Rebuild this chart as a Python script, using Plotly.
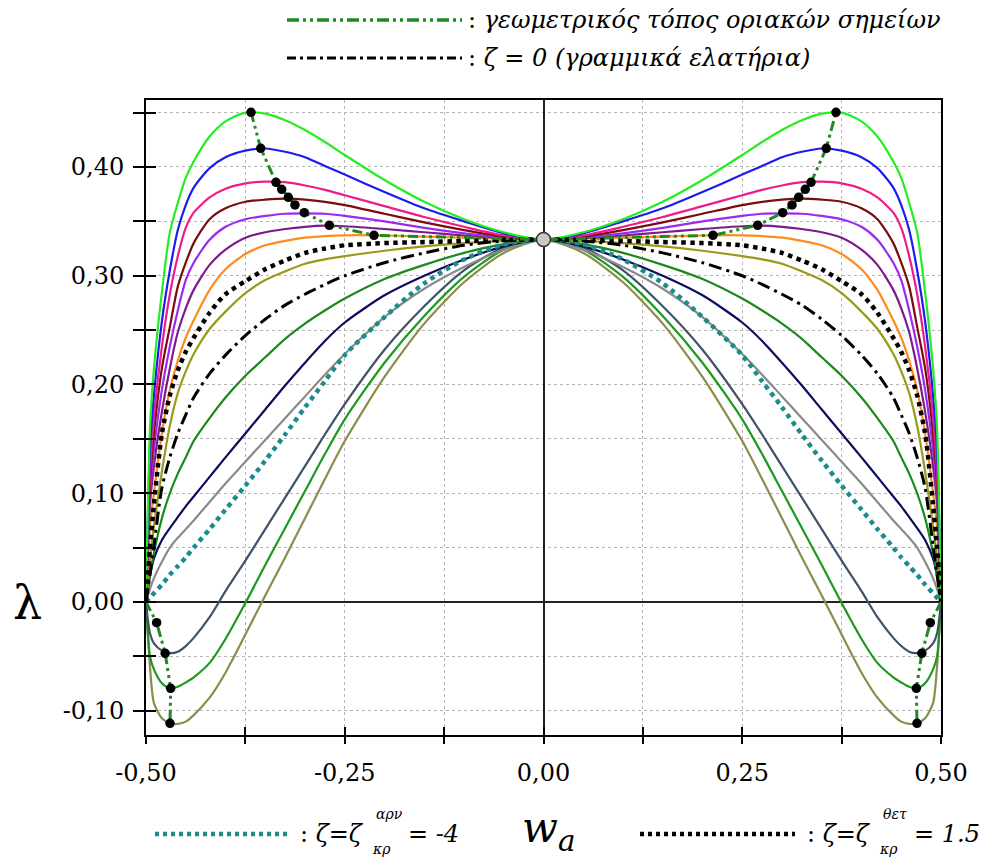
import plotly.graph_objects as go

# ---------------- data (left half; curves are symmetric) ----------------
W_HALF = [-0.5, -0.495, -0.49, -0.48, -0.47, -0.46, -0.45, -0.44, -0.42, -0.40, -0.375,
          -0.35, -0.325, -0.30, -0.275, -0.25, -0.20, -0.15, -0.10, -0.05, 0.0]

LAM_LIME   = [0, 0.16, 0.215, 0.285, 0.34, 0.367, 0.39, 0.405, 0.428, 0.442, 0.450, 0.449, 0.443, 0.434, 0.423, 0.411, 0.388, 0.368, 0.352, 0.340, 0.3333]
LAM_BLUE   = [0, 0.14, 0.19, 0.258, 0.305, 0.342, 0.365, 0.381, 0.399, 0.409, 0.415, 0.417, 0.414, 0.409, 0.401, 0.393, 0.377, 0.362, 0.350, 0.339, 0.3333]
LAM_PINK   = [0, 0.12, 0.17, 0.235, 0.283, 0.318, 0.344, 0.358, 0.372, 0.380, 0.385, 0.3865, 0.386, 0.383, 0.379, 0.374, 0.364, 0.354, 0.345, 0.337, 0.3333]
LAM_MAROON = [0, 0.11, 0.155, 0.215, 0.253, 0.29, 0.312, 0.33, 0.352, 0.362, 0.368, 0.370, 0.371, 0.370, 0.368, 0.365, 0.357, 0.349, 0.342, 0.336, 0.3333]
LAM_VIOLET = [0, 0.10, 0.14, 0.195, 0.235, 0.268, 0.296, 0.312, 0.333, 0.345, 0.352, 0.355, 0.357, 0.3574, 0.357, 0.355, 0.350, 0.344, 0.339, 0.335, 0.3333]
LAM_PURPLE = [0, 0.09, 0.125, 0.175, 0.215, 0.248, 0.27, 0.287, 0.31, 0.324, 0.335, 0.340, 0.343, 0.345, 0.346, 0.3455, 0.343, 0.340, 0.337, 0.3345, 0.3333]
LAM_ORANGE = [0, 0.07, 0.10, 0.155, 0.195, 0.222, 0.243, 0.259, 0.287, 0.306, 0.320, 0.328, 0.332, 0.335, 0.3365, 0.3372, 0.337, 0.336, 0.335, 0.334, 0.3333]
LAM_POS15  = [0, 0.05, 0.09, 0.155, 0.19, 0.213, 0.23, 0.243, 0.266, 0.283, 0.295, 0.306, 0.314, 0.321, 0.325, 0.328, 0.330, 0.331, 0.332, 0.333, 0.3333]
LAM_OLIVE  = [0, 0.04, 0.07, 0.12, 0.162, 0.192, 0.212, 0.228, 0.251, 0.267, 0.284, 0.296, 0.304, 0.311, 0.315, 0.318, 0.323, 0.327, 0.330, 0.332, 0.3333]
LAM_ZERO   = [0, 0.025, 0.052, 0.105, 0.133, 0.155, 0.172, 0.188, 0.210, 0.227, 0.245, 0.260, 0.273, 0.283, 0.292, 0.300, 0.312, 0.321, 0.328, 0.332, 0.3333]
LAM_GREEN  = [0, 0.025, 0.045, 0.077, 0.1, 0.118, 0.133, 0.148, 0.169, 0.188, 0.208, 0.225, 0.242, 0.256, 0.268, 0.279, 0.297, 0.310, 0.321, 0.329, 0.3333]
LAM_NAVY   = [0, 0.024, 0.04, 0.057, 0.068, 0.078, 0.088, 0.097, 0.115, 0.133, 0.155, 0.177, 0.199, 0.220, 0.240, 0.257, 0.282, 0.300, 0.315, 0.327, 0.3333]
LAM_GRAY   = [0, 0.012, 0.022, 0.037, 0.05, 0.059, 0.067, 0.075, 0.092, 0.109, 0.129, 0.149, 0.169, 0.189, 0.209, 0.228, 0.262, 0.288, 0.308, 0.324, 0.3333]
LAM_NEG4   = [0, 0.004, 0.008, 0.016, 0.025, 0.033, 0.041, 0.05, 0.067, 0.085, 0.107, 0.13, 0.154, 0.179, 0.203, 0.227, 0.262, 0.293, 0.315, 0.329, 0.3333]
LAM_SLATE  = [0, -0.029, -0.038, -0.0447, -0.047, -0.0457, -0.0405, -0.033, -0.014, 0.010, 0.038, 0.067, 0.096, 0.125, 0.154, 0.182, 0.232, 0.272, 0.305, 0.326, 0.3333]
LAM_GREEN2 = [0, -0.050, -0.062, -0.0748, -0.0794, -0.078, -0.074, -0.0693, -0.056, -0.034, -0.001, 0.034, 0.068, 0.102, 0.136, 0.168, 0.220, 0.263, 0.299, 0.324, 0.3333]
LAM_KHAKI  = [0, -0.0595, -0.093, -0.107, -0.1116, -0.112, -0.110, -0.104, -0.088, -0.065, -0.030, 0.006, 0.041, 0.077, 0.113, 0.148, 0.207, 0.256, 0.294, 0.321, 0.3333]

# limit points (left side)
LIM_UP_W   = [-0.3679, -0.3557, -0.3365, -0.3293, -0.321, -0.3126, -0.3009, -0.2694, -0.2132]
LIM_UP_L   = [0.4503, 0.4172, 0.3859, 0.3795, 0.3721, 0.3651, 0.358, 0.3464, 0.3372]
LIM_LO_W   = [-0.4866, -0.4759, -0.4690, -0.4698]
LIM_LO_L   = [-0.019, -0.0472, -0.0794, -0.1116]
CENTER_W, CENTER_L = 0.0, 0.3333
EDGE_W, EDGE_L = -0.5, 0.0

X_TICKS = [-0.5, -0.25, 0.0, 0.25, 0.5]
X_TICKTEXT = ["-0,50", "-0,25", "0,00", "0,25", "0,50"]
Y_TICKS = [-0.1, 0.0, 0.1, 0.2, 0.3, 0.4]
Y_TICKTEXT = ["-0,10", "0,00", "0,10", "0,20", "0,30", "0,40"]

FONT = "DejaVu Serif, Liberation Serif, serif"


def mirror(ws, ls):
    """full symmetric curve from left half"""
    xs = list(ws) + [-w for w in reversed(ws[:-1])]
    ys = list(ls) + list(reversed(ls[:-1]))
    return xs, ys


curves = [
    (LAM_KHAKI, "#8c8c4c", 2.2, "solid"),
    (LAM_GREEN2, "#1c9a1c", 2.2, "solid"),
    (LAM_SLATE, "#3f5268", 2.2, "solid"),
    (LAM_GRAY, "#8a8a8a", 2.2, "solid"),
    (LAM_NAVY, "#0c0c5c", 2.2, "solid"),
    (LAM_GREEN, "#1a8a1a", 2.2, "solid"),
    (LAM_OLIVE, "#9a9a1a", 2.2, "solid"),
    (LAM_ORANGE, "#ff8c1a", 2.2, "solid"),
    (LAM_PURPLE, "#7c1c8c", 2.2, "solid"),
    (LAM_VIOLET, "#9a2af0", 2.2, "solid"),
    (LAM_MAROON, "#7a0c0c", 2.2, "solid"),
    (LAM_PINK, "#ee1c8a", 2.2, "solid"),
    (LAM_BLUE, "#1c1cee", 2.2, "solid"),
    (LAM_LIME, "#22ee22", 2.2, "solid"),
    (LAM_NEG4, "#1a8c8c", 4.5, "4.5px,4.5px"),
    (LAM_ZERO, "#000000", 3, "13px,5px,3px,5px"),
    (LAM_POS15, "#000000", 4.5, "4.5px,4.5px"),
]

fig = go.Figure()
for lam, color, width, dash in curves:
    xs, ys = mirror(W_HALF, lam)
    fig.add_trace(go.Scatter(x=xs, y=ys, mode="lines", hoverinfo="skip", showlegend=False,
                             line=dict(color=color, width=width, dash=dash, shape="spline", smoothing=0.7)))

LOCUS_COLOR = "#1f8a1f"
LOCUS_DASH = "10px,4px,3px,4px,3px,4px"
up_x = LIM_UP_W + [CENTER_W] + [-w for w in reversed(LIM_UP_W)]
up_y = LIM_UP_L + [CENTER_L] + list(reversed(LIM_UP_L))
fig.add_trace(go.Scatter(x=up_x, y=up_y, mode="lines", hoverinfo="skip", showlegend=False,
                         line=dict(color=LOCUS_COLOR, width=3, dash=LOCUS_DASH)))
for sgn in (1, -1):
    fig.add_trace(go.Scatter(x=[sgn * EDGE_W] + [sgn * w for w in LIM_LO_W],
                             y=[EDGE_L] + LIM_LO_L, mode="lines", hoverinfo="skip", showlegend=False,
                             line=dict(color=LOCUS_COLOR, width=3, dash=LOCUS_DASH)))
dots_x = LIM_UP_W + [-w for w in LIM_UP_W] + LIM_LO_W + [-w for w in LIM_LO_W]
dots_y = LIM_UP_L + LIM_UP_L + LIM_LO_L + LIM_LO_L
fig.add_trace(go.Scatter(x=dots_x, y=dots_y, mode="markers", hoverinfo="skip", showlegend=False,
                         marker=dict(color="black", size=9.5)))
fig.add_trace(go.Scatter(x=[CENTER_W], y=[CENTER_L], mode="markers", hoverinfo="skip", showlegend=False,
                         marker=dict(color="#c8c8c8", size=14, line=dict(color="#333333", width=1.5))))
# dummy trace for the overlay axes (outer half of crossing ticks)
fig.add_trace(go.Scatter(x=[None], y=[None], xaxis="x2", yaxis="y2", showlegend=False, hoverinfo="skip"))

XR = [-0.5, 0.5]
YR = [-0.1223, 0.4616]
tickfont = dict(family=FONT, size=24, color="black")

fig.update_layout(
    width=995, height=859,
    margin=dict(l=146, r=54, t=100, b=124),
    paper_bgcolor="white", plot_bgcolor="white",
    showlegend=False,
    xaxis=dict(range=XR, tickvals=X_TICKS, ticktext=X_TICKTEXT, tickfont=tickfont,
               ticks="inside", ticklen=8, tickwidth=2, tickcolor="black",
               showline=True, linecolor="black", linewidth=2, mirror=True,
               showgrid=True, gridcolor="#b4b4b4", griddash="dot", gridwidth=1,
               zeroline=True, zerolinecolor="#222222", zerolinewidth=2,
               ticklabelstandoff=15,
               minor=dict(dtick=0.125, tick0=0, ticks="inside", ticklen=8, tickwidth=2, tickcolor="black",
                          showgrid=True, gridcolor="#b4b4b4", griddash="dot", gridwidth=1)),
    yaxis=dict(range=YR, tickvals=Y_TICKS, ticktext=Y_TICKTEXT, tickfont=tickfont,
               ticks="inside", ticklen=10, tickwidth=2, tickcolor="black",
               showline=True, linecolor="black", linewidth=2, mirror=True,
               showgrid=True, gridcolor="#b4b4b4", griddash="dot", gridwidth=1,
               zeroline=True, zerolinecolor="#222222", zerolinewidth=2,
               ticklabelstandoff=15,
               minor=dict(dtick=0.05, tick0=0, ticks="inside", ticklen=10, tickwidth=2, tickcolor="black",
                          showgrid=True, gridcolor="#b4b4b4", griddash="dot", gridwidth=1)),
    xaxis2=dict(overlaying="x", anchor="y2", side="bottom", range=XR, tickvals=X_TICKS,
                showticklabels=False, ticks="outside", ticklen=8, tickwidth=2, tickcolor="black",
                showgrid=False, zeroline=False, showline=False,
                minor=dict(dtick=0.125, tick0=0, ticks="outside", ticklen=8, tickwidth=2, tickcolor="black")),
    yaxis2=dict(overlaying="y", anchor="x2", side="left", range=YR, tickvals=Y_TICKS,
                showticklabels=False, ticks="outside", ticklen=12, tickwidth=2, tickcolor="black",
                showgrid=False, zeroline=False, showline=False,
                minor=dict(dtick=0.05, tick0=0, ticks="outside", ticklen=12, tickwidth=2, tickcolor="black")),
)


def px(x):
    return (x - 146) / 795


def py(y):
    return (735 - y) / 635


shapes = [
    dict(type="line", xref="paper", yref="paper", x0=px(287), x1=px(462), y0=py(20), y1=py(20),
         line=dict(color=LOCUS_COLOR, width=3.5, dash="12px,4px,3px,4px,3px,4px")),
    dict(type="line", xref="paper", yref="paper", x0=px(287), x1=px(462), y0=py(58), y1=py(58),
         line=dict(color="black", width=3, dash="9px,4px,3px,4px")),
    dict(type="line", xref="paper", yref="paper", x0=px(155), x1=px(290), y0=py(834), y1=py(834),
         line=dict(color="#1a8c8c", width=4.5, dash="4px,4px")),
    dict(type="line", xref="paper", yref="paper", x0=px(640), x1=px(795), y0=py(834), y1=py(834),
         line=dict(color="black", width=4.5, dash="4px,4px")),
]
fig.update_layout(shapes=shapes)

txtfont = dict(family=FONT, size=24, color="black")
small = dict(family=FONT, size=14, color="black")
ann = [
    dict(x=px(466), y=py(20), text=": <i>γεωμετρικός τόπος οριακών σημείων</i>", font=txtfont),
    dict(x=px(466), y=py(58), text=": <i>ζ = 0 (γραμμικά ελατήρια)</i>", font=txtfont),
    dict(x=px(298), y=py(834), text=": <i>ζ=ζ</i>", font=txtfont),
    dict(x=px(374), y=py(814), text="<i>αρν</i>", font=small),
    dict(x=px(370), y=py(849), text="<i>κρ</i>", font=small),
    dict(x=px(406), y=py(834), text="<i>= -4</i>", font=txtfont),
    dict(x=px(805), y=py(834), text=": <i>ζ=ζ</i>", font=txtfont),
    dict(x=px(881), y=py(814), text="<i>θετ</i>", font=small),
    dict(x=px(877), y=py(849), text="<i>κρ</i>", font=small),
    dict(x=px(912), y=py(834), text="<i>= 1.5</i>", font=txtfont),
]
annotations = []
for a in ann:
    d = dict(xref="paper", yref="paper", xanchor="left", yanchor="middle", showarrow=False)
    d.update(a)
    annotations.append(d)
annotations.append(dict(xref="paper", yref="paper", x=px(548), y=py(830), xanchor="center", yanchor="middle",
                        showarrow=False, text="<i>w<sub>a</sub></i>", font=dict(family=FONT, size=42, color="black")))
annotations.append(dict(xref="paper", yref="paper", x=px(27), y=py(603), xanchor="center", yanchor="middle",
                        showarrow=False, text="λ", font=dict(family=FONT, size=46, color="black")))
fig.update_layout(annotations=annotations)

fig.write_html("out.html", config={"displayModeBar": False},
               post_script="document.body.style.margin='0px';")
